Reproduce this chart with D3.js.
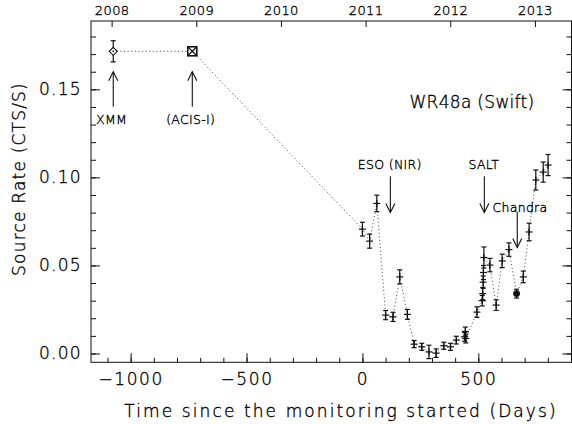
<!DOCTYPE html>
<html><head><meta charset="utf-8">
<script src="https://cdn.jsdelivr.net/npm/d3@7"></script>
<style>
html,body{margin:0;padding:0;background:#fff;}
text{font-family:"DejaVu Sans",sans-serif;font-weight:200;fill:#000;stroke:#000;stroke-width:0.35px;}
</style></head>
<body><svg id="c" width="572" height="424"></svg>
<script>
// ---- data (days since monitoring start, count rate, 1-sigma error) ----
const preDays   = [-1075, -734];
const preRates  = [0.1716, 0.1716];
const preErrs   = [0.006, 0];
const preNames  = ["XMM", "ACIS-I"];

const swiftDays  = [0, 31, 62, 100, 132, 161, 194, 223, 256, 287, 318, 351, 380, 405,
                    441, 444, 446, 494, 517, 519, 521, 522, 524, 550, 577, 603, 632,
                    665, 694, 719, 748, 780, 801];
const swiftRates = [0.0706, 0.0638, 0.0852, 0.0218, 0.0208, 0.0435, 0.0222, 0.0053, 0.0038, 0.0009, 0.0002, 0.0044, 0.0038, 0.0076,
                    0.0095, 0.0125, 0.0085, 0.0235, 0.0300, 0.0340, 0.0405, 0.0460, 0.0545, 0.0502, 0.0275, 0.0526, 0.0590,
                    0.0340, 0.0435, 0.0690, 0.0985, 0.1030, 0.1070];
const swiftErrs  = [0.0039, 0.0040, 0.0047, 0.0026, 0.0026, 0.0040, 0.0028, 0.0020, 0.0020, 0.0038, 0.0024, 0.0020, 0.0020, 0.0022,
                    0.0025, 0.0025, 0.0025, 0.0030, 0.0030, 0.0035, 0.0035, 0.0040, 0.0060, 0.0038, 0.0030, 0.0038, 0.0038,
                    0.0025, 0.0033, 0.0050, 0.0057, 0.0057, 0.0060];
const chandraIndex = 27;

const xMajorTicks = [-1000, -500, 0, 500];
const yMajorTicks = [0.00, 0.05, 0.10, 0.15];
const yearTicks   = [2008, 2009, 2010, 2011, 2012, 2013];

// ---- layout ----
const svg = d3.select("#c");
const L = 91, R = 571.5, T = 21, B = 362.3;
const x = d3.scaleLinear().domain([-1171, 902]).range([L, R]);
const y = d3.scaleLinear().domain([-0.005, 0.1888]).range([B, T]);
const dayOfYear2008 = -1082;
const yr = d3.scaleLinear()
  .domain([2008 + (-1171 - dayOfYear2008) / 365.25, 2008 + (902 - dayOfYear2008) / 365.25])
  .range([L, R]);

const ink = "#111";

// frame
svg.append("rect").attr("x", L).attr("y", T).attr("width", R - L).attr("height", B - T)
  .attr("fill", "none").attr("stroke", ink).attr("stroke-width", 1);

function styleAxis(g) {
  g.select(".domain").remove();
  g.selectAll(".tick line").attr("stroke", ink).attr("stroke-width", 1);
}

// bottom axis
svg.append("g").attr("transform", `translate(0,${B})`)
  .call(d3.axisBottom(x).tickValues(d3.range(-1100, 901, 100)).tickSize(-4.5).tickFormat(""))
  .call(styleAxis);
svg.append("g").attr("transform", `translate(0,${B})`)
  .call(d3.axisBottom(x).tickValues(xMajorTicks).tickSize(-9).tickPadding(18).tickFormat(d3.format("d")))
  .call(styleAxis)
  .call(g => g.selectAll("text").attr("font-size", 17).attr("dy", "0.25em").attr("letter-spacing", 1.6));

// top axis (years)
svg.append("g").attr("transform", `translate(0,${T})`)
  .call(d3.axisTop(yr).tickValues(yearTicks).tickSize(-6).tickPadding(6).tickFormat(d3.format("d")))
  .call(styleAxis)
  .call(g => g.selectAll("text").attr("font-size", 13).attr("letter-spacing", 0.4));

// left axis
const yMinor = d3.range(0, 0.185, 0.01);
svg.append("g").attr("transform", `translate(${L},0)`)
  .call(d3.axisLeft(y).tickValues(yMinor).tickSize(-5).tickFormat(""))
  .call(styleAxis);
svg.append("g").attr("transform", `translate(${L},0)`)
  .call(d3.axisLeft(y).tickValues(yMajorTicks).tickSize(-9).tickPadding(9).tickFormat(d3.format(".2f")))
  .call(styleAxis)
  .call(g => g.selectAll("text").attr("font-size", 17).attr("letter-spacing", 1.3));
// right axis
svg.append("g").attr("transform", `translate(${R},0)`)
  .call(d3.axisRight(y).tickValues(yMinor).tickSize(-5).tickFormat(""))
  .call(styleAxis);
svg.append("g").attr("transform", `translate(${R},0)`)
  .call(d3.axisRight(y).tickValues(yMajorTicks).tickSize(-9).tickFormat(""))
  .call(styleAxis);

// axis titles
svg.append("text").attr("x", 341).attr("y", 417).attr("text-anchor", "middle")
  .attr("font-size", 17).attr("letter-spacing", 2.1).text("Time since the monitoring started (Days)");
svg.append("text").attr("transform", "translate(25,179) rotate(-90)").attr("text-anchor", "middle")
  .attr("font-size", 17).attr("letter-spacing", 1.2).text("Source Rate (CTS/S)");

// dotted connecting line
const all = preDays.map((d, i) => [d, preRates[i]]).concat(swiftDays.map((d, i) => [d, swiftRates[i]]));
svg.append("path").datum(all)
  .attr("d", d3.line().x(d => x(d[0])).y(d => y(d[1])))
  .attr("fill", "none").attr("stroke", "#444").attr("stroke-width", 1).attr("stroke-dasharray", "1,2.6");

// error bars + plus symbols
const g = svg.append("g").attr("stroke", ink).attr("stroke-width", 1.2).attr("fill", "none");
function errBar(d, v, e, cap) {
  const cx = x(d);
  g.append("line").attr("x1", cx).attr("x2", cx).attr("y1", y(v - e)).attr("y2", y(v + e));
  [v - e, v + e].forEach(t => g.append("line").attr("x1", cx - cap).attr("x2", cx + cap).attr("y1", y(t)).attr("y2", y(t)));
}
swiftDays.forEach((d, i) => {
  errBar(d, swiftRates[i], swiftErrs[i], 2.5);
  const cx = x(d), cy = y(swiftRates[i]);
  g.append("line").attr("x1", cx - 3.5).attr("x2", cx + 3.5).attr("y1", cy).attr("y2", cy);
  g.append("line").attr("x1", cx).attr("x2", cx).attr("y1", cy - 3.5).attr("y2", cy + 3.5);
});
// Chandra filled dot
svg.append("circle").attr("cx", x(swiftDays[chandraIndex])).attr("cy", y(swiftRates[chandraIndex]))
  .attr("r", 3.4).attr("fill", ink);

// XMM diamond
{
  const cx = x(preDays[0]), cy = y(preRates[0]);
  errBar(preDays[0], preRates[0], preErrs[0], 2.5);
  svg.append("path").attr("d", `M${cx},${cy - 4}L${cx + 4},${cy}L${cx},${cy + 4}L${cx - 4},${cy}Z`)
    .attr("fill", "#fff").attr("stroke", ink).attr("stroke-width", 1.1);
  svg.append("circle").attr("cx", cx).attr("cy", cy).attr("r", 0.9).attr("fill", ink);
}
// ACIS-I boxed X
{
  const cx = x(preDays[1]), cy = y(preRates[1]), h = 4.5;
  const b = svg.append("g").attr("stroke", ink).attr("stroke-width", 1.6).attr("fill", "#fff");
  b.append("rect").attr("x", cx - h).attr("y", cy - h).attr("width", 2 * h).attr("height", 2 * h);
  b.append("path").attr("d", `M${cx - h},${cy - h}L${cx + h},${cy + h}M${cx + h},${cy - h}L${cx - h},${cy + h}`).attr("stroke-width", 1.2);
}

// annotations: arrow from rate `from` to rate `to` at a given day
const notes = [
  {text: "XMM",       day: -1075, from: 0.1401, to: 0.1600, tx: -1082, ty: 0.1303, anchor: "middle"},
  {text: "(ACIS-I)",  day: -734,  from: 0.1401, to: 0.1600, tx: -741,  ty: 0.1303, anchor: "middle"},
  {text: "ESO (NIR)", day: 120.5, from: 0.1007, to: 0.0801, tx: 118,   ty: 0.1047, anchor: "middle"},
  {text: "SALT",      day: 526,   from: 0.1007, to: 0.0801, tx: 524,   ty: 0.1047, anchor: "middle"},
  {text: "Chandra",   day: 668,   from: 0.0805, to: 0.0602, tx: 561,   ty: 0.0805, anchor: "start"}
];
const a = svg.append("g").attr("stroke", ink).attr("stroke-width", 1.1).attr("fill", "none");
notes.forEach(n => {
  const cx = x(n.day), y1 = y(n.from), y2 = y(n.to);
  const dir = y2 < y1 ? 1 : -1;
  a.append("line").attr("x1", cx).attr("x2", cx).attr("y1", y1).attr("y2", y2);
  a.append("path").attr("d", `M${cx - 4.5},${y2 + dir * 9}L${cx},${y2}L${cx + 4.5},${y2 + dir * 9}`);
  svg.append("text").attr("x", x(n.tx)).attr("y", y(n.ty)).attr("text-anchor", n.anchor)
    .attr("font-size", 12.5).attr("letter-spacing", 0.3).text(n.text);
});

svg.append("text").attr("x", 472).attr("y", 108).attr("text-anchor", "middle")
  .attr("font-size", 17).attr("letter-spacing", 0.3).text("WR48a (Swift)");
</script></body></html>
